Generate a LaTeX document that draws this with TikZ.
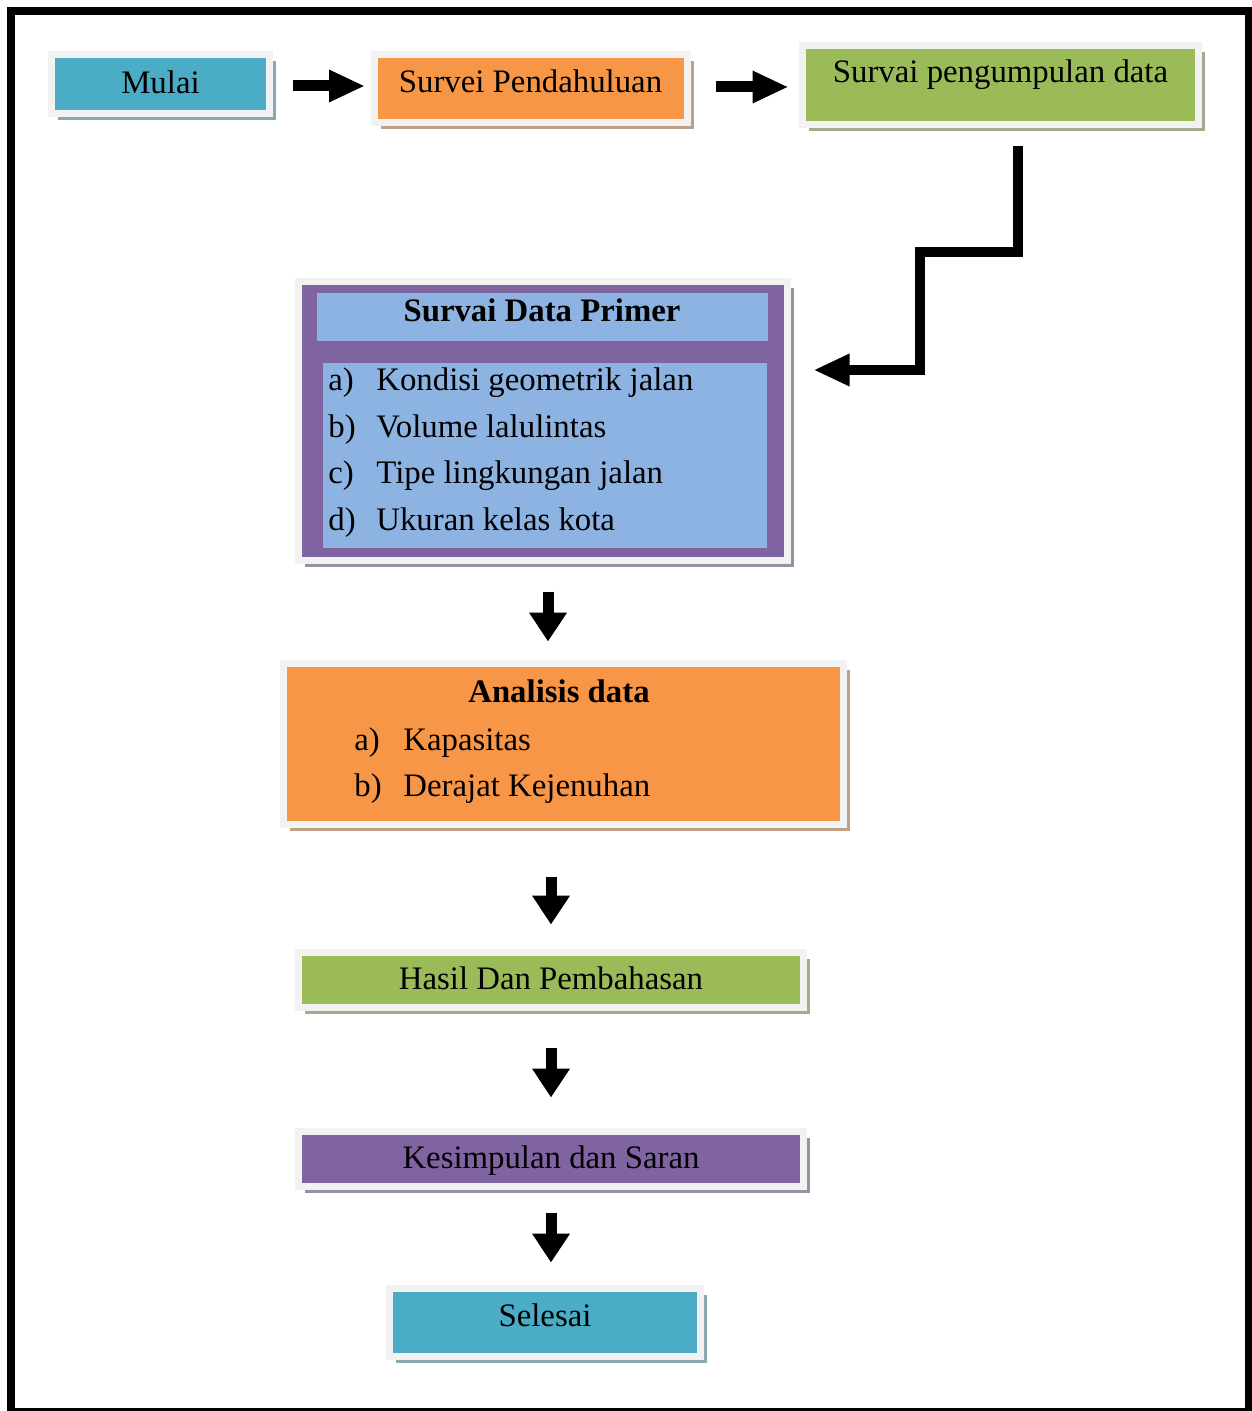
\documentclass[tikz,border=0pt]{standalone}
\usepackage{fontspec}
\setmainfont{Liberation Serif}
\usetikzlibrary{arrows.meta,shadows}

\definecolor{tealbox}{HTML}{4BACC6}
\definecolor{orangebox}{HTML}{F79646}
\definecolor{greenbox}{HTML}{9BBB59}
\definecolor{purplebox}{HTML}{8064A2}
\definecolor{bluebox}{HTML}{8DB3E2}
\definecolor{framegray}{HTML}{F2F2F2}

\tikzset{
	box/.style={draw=framegray, line width=3.5pt, fill=#1, inner sep=0pt,
		text height=13.5pt, text depth=3.5pt,
		drop shadow={shadow xshift=3.25pt, shadow yshift=-3.25pt, opacity=1, fill=#1!40!gray!80!white}},
	panel/.style={fill=bluebox, inner sep=0pt, text height=13.5pt},
	item/.style={anchor=base west, inner sep=0pt},
	harr/.style={line width=5.5pt, -{Triangle[length=18pt,width=15pt]}},
	varr/.style={line width=5.5pt, -{Triangle[length=14.5pt,width=18pt]}},
}

\begin{document}
\begin{tikzpicture}[x=0.5pt, y=-0.5pt, font=\fontsize{16.4}{20}\selectfont]
			\useasboundingbox (0,0) rectangle (1251,1411);
			\draw[line width=4pt] (10.5,11) rectangle (1249,1412);

			% top row
			\node[box=tealbox, minimum width=109pt, minimum height=29.5pt] (mulai) at (160.5,84) {Mulai};
			\node[box=orangebox, minimum width=156.5pt, minimum height=34pt, text depth=9.5pt] (survei) at (530.5,88.5) {Survei Pendahuluan};
			\node[box=greenbox, minimum width=198pt, minimum height=39.5pt, text depth=16pt] (pengumpulan) at (1000.5,85) {Survai pengumpulan data};

			% survai data primer
			\node[box=purplebox, minimum width=244.5pt, minimum height=139.5pt] (sdp) at (543,421) {};
			\node[panel, minimum width=225.5pt, minimum height=24pt, text depth=9pt, font=\fontsize{16.4}{20}\selectfont\bfseries] (sdphead) at (542,317) {Survai Data Primer};
			\node[panel, minimum width=222pt, minimum height=92.5pt] (sdpbody) at (545,455.5) {};
			\foreach \lbl/\txt [count=\i from 0] in {a)/Kondisi geometrik jalan, b)/Volume lalulintas, c)/Tipe lingkungan jalan, d)/Ukuran kelas kota} {
				\node[item] (sdplbl\i) at (328, 390.5+46.7*\i) {\lbl};
				\node[item] (sdptxt\i) at (376, 390.5+46.7*\i) {\txt};
			}

			% analisis data
			\node[box=orangebox, minimum width=280pt, minimum height=80.5pt] (analisis) at (563.5,744) {};
			\node[anchor=base, inner sep=0pt, font=\fontsize{16.4}{20}\selectfont\bfseries] (analisistitle) at (559,702) {Analisis data};
			\foreach \lbl/\txt [count=\i from 0] in {a)/Kapasitas, b)/Derajat Kejenuhan} {
				\node[item] (anlbl\i) at (354, 750+46*\i) {\lbl};
				\node[item] (antxt\i) at (403, 750+46*\i) {\txt};
			}

			% bottom column
			\node[box=greenbox, minimum width=252.5pt, minimum height=27.5pt, text depth=4pt] (hasil) at (551,980) {Hasil Dan Pembahasan};
			\node[box=purplebox, minimum width=252.5pt, minimum height=27.5pt, text depth=4pt] (kesimpulan) at (551,1159) {Kesimpulan dan Saran};
			\node[box=tealbox, minimum width=155.5pt, minimum height=34pt, text depth=10pt] (selesai) at (545,1322.5) {Selesai};

			% arrows
			\draw[harr, shorten <=10pt, shorten >=2.75pt] ([yshift=-1pt]mulai.east) -- ([yshift=-1pt]mulai.east -| survei.west);
			\draw[harr, shorten <=12.75pt, shorten >=5.25pt] ([yshift=0.75pt]survei.east) -- ([yshift=0.75pt]survei.east -| pengumpulan.west);
			\coordinate (bend1) at (920,252);
			\coordinate (bend2) at (920,370);
			\draw[harr, line width=5pt, shorten >=11.25pt] ([shift={(17.5,18.5)}]pengumpulan.south) |- (bend1) -- (bend2) -- (bend2 -| sdp.east);
			\draw[varr, shorten <=13.75pt, shorten >=9.25pt] ([xshift=2.5pt]sdp.south) -- ([xshift=2.5pt]sdp.south |- analisis.north);
			\draw[varr, shorten <=24.25pt, shorten >=12.25pt] (analisis.south -| hasil.north) -- (hasil.north);
			\draw[varr, shorten <=18.5pt, shorten >=15.25pt] (hasil) -- (kesimpulan);
			\draw[varr, shorten <=11.25pt, shorten >=11.25pt] (kesimpulan.south) -- (kesimpulan.south |- selesai.north);
		\end{tikzpicture}
\end{document}
